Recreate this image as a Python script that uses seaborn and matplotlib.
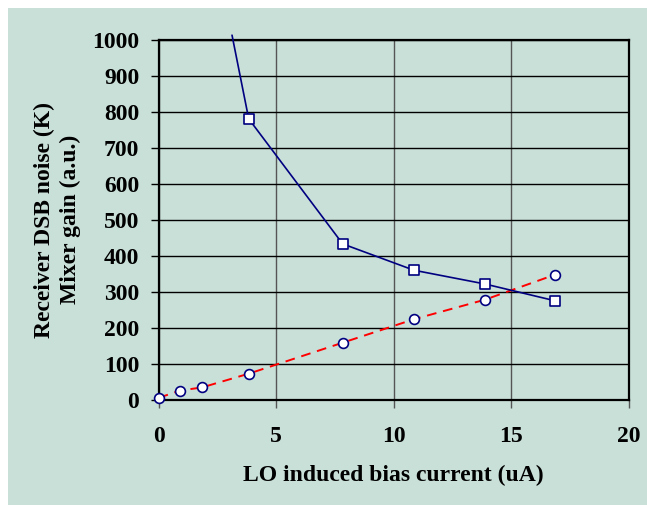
import matplotlib
matplotlib.use("Agg")
import matplotlib.pyplot as plt
from matplotlib.patches import Rectangle
import seaborn as sns
import pandas as pd

# ---- data ----
noise_x = [3.12, 3.83, 7.83, 10.86, 13.87, 16.88]
noise_y = [1012, 780, 433, 360, 322, 275]
gain_x = [0.0, 0.9, 1.85, 3.83, 7.83, 10.86, 13.87, 16.88]
gain_y = [6, 26, 35, 73, 159, 224, 278, 348]
x_ticks = [0, 5, 10, 15, 20]
y_ticks = [0, 100, 200, 300, 400, 500, 600, 700, 800, 900, 1000]
x_label = "LO induced bias current (uA)"
y_label = "Receiver DSB noise (K)\nMixer gain (a.u.)"

noise = pd.DataFrame({"x": noise_x, "y": noise_y})
gain = pd.DataFrame({"x": gain_x, "y": gain_y})
noise_in = noise[noise["y"] <= 1000]

sns.set_style("ticks")
plt.rcParams["font.family"] = ["Liberation Serif", "DejaVu Serif"]
plt.rcParams["font.weight"] = "bold"
plt.rcParams["text.color"] = "black"
plt.rcParams["axes.labelcolor"] = "black"

BG = "#C9E0D8"
NAVY = "#000080"
RED = "#FF0000"
FS = 17

fig = plt.figure(figsize=(6.47, 5.05), dpi=100, facecolor="white")
fig.patches.append(Rectangle((8 / 647, 0), 1 - 8 / 647, 1 - 8 / 505,
                             transform=fig.transFigure, facecolor=BG,
                             edgecolor="none", zorder=-10))
ax = fig.add_axes([158.7 / 647, 1 - 400 / 505, 470 / 647, (400 - 39.5) / 505])
ax.set_facecolor("none")

# gridlines
ax.set_xlim(0, 20)
ax.set_ylim(0, 1000)
ax.set_xticks(x_ticks)
ax.set_yticks(y_ticks)
ax.yaxis.grid(True, color="black", lw=1.0)
ax.xaxis.grid(True, color="#555555", lw=1.0)
ax.set_axisbelow(True)

# lines
sns.lineplot(data=gain, x="x", y="y", ax=ax, color=RED, lw=1.4, sort=False,
             linestyle=(0, (5, 3.5)), estimator=None, zorder=3)
sns.lineplot(data=noise, x="x", y="y", ax=ax, color=NAVY, lw=1.2,
             sort=False, estimator=None, zorder=3)
ax.lines[-1].set_clip_on(False)

# markers
sns.scatterplot(data=noise_in, x="x", y="y", ax=ax, marker="s", s=50,
                facecolor="white", edgecolor=NAVY, linewidth=1.2, zorder=4)
sns.scatterplot(data=gain, x="x", y="y", ax=ax, marker="o", s=50,
                facecolor="white", edgecolor=NAVY, linewidth=1.2, zorder=4,
                clip_on=False)

for s in ax.spines.values():
    s.set_visible(True)
    s.set_color("black")
    s.set_linewidth(1.6)

ax.tick_params(axis="x", direction="out", length=5.5, width=1.0, color="#555555",
               labelcolor="black", pad=13, labelsize=FS)
ax.tick_params(axis="y", direction="out", length=6, width=1.0, color="black",
               labelcolor="black", pad=8, labelsize=FS)
for t in ax.get_xticklabels() + ax.get_yticklabels():
    t.set_fontweight("bold")

ax.set_xlabel(x_label, fontsize=FS, fontweight="bold", labelpad=13, color="black")
ax.set_ylabel(y_label, fontsize=FS, fontweight="bold", labelpad=8,
              linespacing=1.3, color="black")

fig.savefig("out.png", dpi=100, facecolor="white")
